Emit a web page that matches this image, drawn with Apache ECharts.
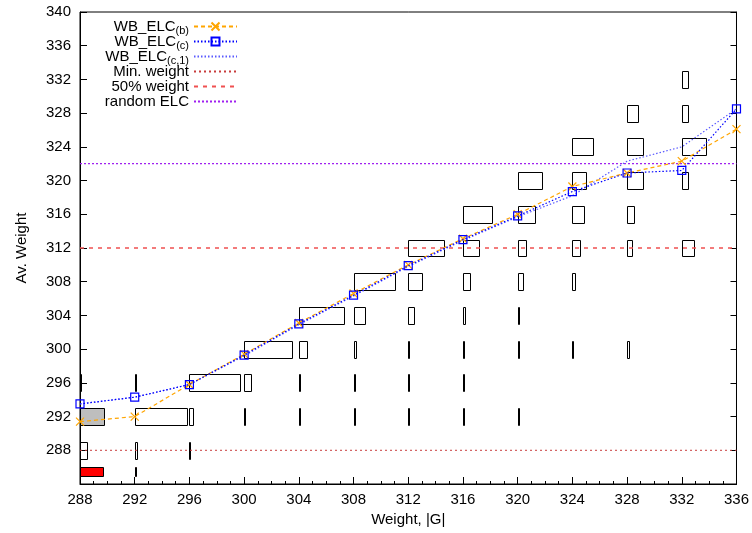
<!DOCTYPE html>
<html>
<head>
<meta charset="utf-8">
<script src="https://cdn.jsdelivr.net/npm/echarts@6/dist/echarts.min.js"></script>
<style>
  html, body { margin: 0; padding: 0; background: #fff; }
  #chart { width: 752px; height: 533px; }
</style>
</head>
<body>
<div id="chart"></div>
<script>
// Weight values on the x axis
const weightX = [288, 292, 296, 300, 304, 308, 312, 316, 320, 324, 328, 332, 336];

// Average weight curves
const wbElcB  = [291.4, 292.0, 295.8, 299.4, 303.1, 306.6, 310.0, 313.1, 316.0, 319.3, 320.9, 322.3, 326.1];
const wbElcC  = [293.5, 294.3, 295.8, 299.3, 303.0, 306.4, 309.9, 313.0, 315.8, 318.7, 320.9, 321.2, 328.5];
const wbElcC1 = [293.5, 294.3, 295.8, 299.2, 302.9, 306.3, 309.8, 312.9, 315.7, 318.2, 322.3, 324.0, 328.5];

// Reference levels
const minWeight = 288;
const halfWeight = 312;
const randomElc = 322;

// Distribution cells: for each column, [row weight, relative frequency]
const cellColumns = [288, 292, 296, 300, 304, 308, 312, 316, 320, 324, 328, 332];
const cellRows = [
  [[288, 0.5], [292, 1.77], [296, 0.1]],
  [[288, 0.17], [292, 3.8], [296, 0.06]],
  [[288, 0.06], [292, 0.24], [296, 3.73]],
  [[292, 0.06], [296, 0.49], [300, 3.5]],
  [[292, 0.06], [296, 0.06], [300, 0.63], [304, 3.3]],
  [[292, 0.06], [296, 0.06], [300, 0.2], [304, 0.87], [308, 3.0]],
  [[292, 0.06], [296, 0.06], [300, 0.06], [304, 0.39], [308, 1.0], [312, 2.6]],
  [[292, 0.06], [296, 0.06], [300, 0.06], [304, 0.17], [308, 0.48], [312, 1.17], [316, 2.1]],
  [[292, 0.06], [300, 0.06], [304, 0.1], [308, 0.36], [312, 0.6], [316, 1.3], [320, 1.75]],
  [[300, 0.06], [308, 0.17], [312, 0.57], [316, 0.87], [320, 1.02], [324, 1.5]],
  [[300, 0.15], [312, 0.36], [316, 0.5], [320, 1.15], [324, 1.15], [328, 0.8]],
  [[312, 0.92], [320, 0.46], [324, 1.8], [328, 0.46], [332, 0.46]]
];
// Highlighted cell [column, row]
const highlightCell = [288, 292];
// Minimum-weight counts: [column, relative frequency], drawn between two levels
const minCounts = [[288, 1.65], [292, 0.08]];
const minCountRange = [285, 286];

const font = 'Liberation Sans, Arial, sans-serif';
const fs = 15;

// Build cell data: [x, yCenter, width, halfHeight, kind]
const cellData = [];
cellColumns.forEach((cx, i) => {
  cellRows[i].forEach(([ry, w]) => {
    const hl = cx === highlightCell[0] && ry === highlightCell[1];
    cellData.push([cx, ry, w, 1, hl ? 1 : 0]);
  });
});
minCounts.forEach(([cx, w]) => {
  const mid = (minCountRange[0] + minCountRange[1]) / 2;
  const half = (minCountRange[1] - minCountRange[0]) / 2;
  cellData.push([cx, mid, w, half, 2]);
});

const fills = ['none', '#bebebe', '#ff0000'];

function renderCell(params, api) {
  const x = api.value(0), y = api.value(1), w = api.value(2), h = api.value(3), k = api.value(4);
  const p0 = api.coord([x, y + h]);
  const p1 = api.coord([x + w, y - h]);
  const x0 = Math.round(p0[0]) + 0.5, y0 = Math.round(p0[1]) + 0.5;
  const x1 = Math.max(Math.round(p1[0]) + 0.5, x0 + 1), y1 = Math.round(p1[1]) + 0.5;
  return {
    type: 'rect',
    shape: { x: x0, y: y0, width: x1 - x0, height: y1 - y0 },
    style: { fill: fills[k], stroke: '#000', lineWidth: 1 }
  };
}

const pairs = (ys) => weightX.map((x, i) => [x, ys[i]]);
const hline = (v) => [[weightX[0], v], [weightX[weightX.length - 1], v]];
// legend entries for plain lines show the line sample only
const plainEntry = (name) => ({ name, itemStyle: { opacity: 0 } });

const chart = echarts.init(document.getElementById('chart'), null, { renderer: 'canvas' });
chart.setOption({
  animation: false,
  backgroundColor: '#fff',
  grid: { left: 80, right: 15, top: 12, bottom: 49, show: true, borderColor: '#000', borderWidth: 1 },
  textStyle: { fontFamily: font },
  legend: {
    data: ['WB_ELC(b)', 'WB_ELC(c)', plainEntry('WB_ELC(c,1)'), plainEntry('Min. weight'),
           plainEntry('50% weight'), plainEntry('random ELC')],
    orient: 'vertical',
    align: 'right',
    right: 514,
    top: 17,
    padding: 0,
    itemWidth: 43,
    itemHeight: 10,
    itemGap: -4,
    selectedMode: false,
    // names like WB_ELC(b) carry a subscript; every entry keeps the same line box
    formatter: (name) => {
      const m = name.match(/^(WB_ELC)(\(.*\))$/);
      return m ? `{m|${m[1]}}{s|${m[2]}}` : `{m|${name}}{s|\u200b}`;
    },
    textStyle: {
      color: '#000',
      fontFamily: font,
      fontSize: fs,
      rich: {
        m: { fontSize: fs, fontFamily: font, color: '#000', lineHeight: 19, verticalAlign: 'middle' },
        s: { fontSize: 11, fontFamily: font, color: '#000', lineHeight: 4, verticalAlign: 'top', padding: [8, 0, 0, 0] }
      }
    }
  },
  xAxis: [{
    type: 'value', min: 288, max: 336, interval: 4,
    name: 'Weight, |G|', nameLocation: 'middle', nameGap: 28,
    nameTextStyle: { fontSize: fs, color: '#000', fontFamily: font },
    axisLine: { lineStyle: { color: '#000', width: 1 } },
    axisTick: { inside: true, length: 7, lineStyle: { color: '#000' } },
    minorTick: { show: true, splitNumber: 4, length: 3, lineStyle: { color: '#000' } },
    axisLabel: { fontSize: fs, color: '#000', margin: 8, fontFamily: font },
    splitLine: { show: false }
  }],
  yAxis: [{
    type: 'value', min: 284, max: 340, interval: 4,
    name: 'Av. Weight', nameLocation: 'middle', nameGap: 51,
    nameTextStyle: { fontSize: fs, color: '#000', fontFamily: font },
    axisLine: { show: true, lineStyle: { color: '#000', width: 1 } },
    axisTick: { show: true, inside: true, length: 7, lineStyle: { color: '#000' } },
    axisLabel: { fontSize: fs, color: '#000', margin: 9, fontFamily: font,
      formatter: (v) => (v < 288 ? '' : String(v)) },
    splitLine: { show: false }
  }, {
    type: 'value', min: 284, max: 340, interval: 4, position: 'right',
    axisLine: { show: true, lineStyle: { color: '#000', width: 1 } },
    axisTick: { show: true, inside: true, length: 6, lineStyle: { color: '#000' } },
    axisLabel: { show: false },
    splitLine: { show: false }
  }],
  series: [
    {
      type: 'custom', name: 'cells', renderItem: renderCell,
      encode: { x: 0, y: 1 }, data: cellData, z: 1, silent: true
    },
    {
      type: 'line', name: 'Min. weight', data: hline(minWeight), symbol: 'none', z: 2,
      lineStyle: { color: '#c83c3c', width: 1, type: [2, 3] }, itemStyle: { color: '#c83c3c' }
    },
    {
      type: 'line', name: '50% weight', data: hline(halfWeight), symbol: 'none', z: 2,
      lineStyle: { color: '#f05050', width: 1.5, type: [4, 5] }, itemStyle: { color: '#f05050' }
    },
    {
      type: 'line', name: 'random ELC', data: hline(randomElc), symbol: 'none', z: 2,
      lineStyle: { color: '#a020f0', width: 1.2, type: [2, 2] }, itemStyle: { color: '#a020f0' }
    },
    {
      type: 'line', name: 'WB_ELC(c,1)', data: pairs(wbElcC1), symbol: 'none', z: 3,
      lineStyle: { color: '#5a5aff', width: 1.2, type: [1.5, 2] }, itemStyle: { color: '#5a5aff' }
    },
    {
      type: 'line', name: 'WB_ELC(b)', data: pairs(wbElcB), z: 4,
      symbol: 'path://M0 0L10 10M10 0L0 10', symbolSize: 8, showSymbol: true,
      lineStyle: { color: '#ffa500', width: 1.2, type: [4, 3] },
      itemStyle: { color: 'rgba(0,0,0,0)', borderColor: '#ffa500', borderWidth: 1.2 }
    },
    {
      type: 'line', name: 'WB_ELC(c)', data: pairs(wbElcC), z: 5,
      symbol: 'rect', symbolSize: 8, showSymbol: true,
      lineStyle: { color: '#0000ff', width: 1.2, type: [1.5, 2] },
      itemStyle: { color: 'rgba(0,0,0,0)', borderColor: '#0000ff', borderWidth: 1.2 }
    }
  ]
});
</script>
</body>
</html>
